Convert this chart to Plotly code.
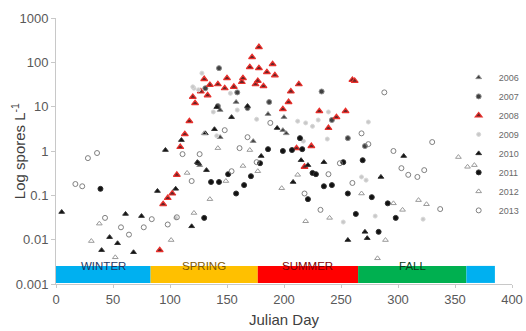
import plotly.graph_objects as go

# ---------------- data ----------------
years = ["2006", "2007", "2008", "2009", "2010", "2011", "2012", "2013"]

d2006 = [158, 144, 186, 200, 173, 202, 199, 144, 126]
v2006 = [12.7, 2.05, 6.8, 5.8, 1.67, 2.5, 2.95, 8.4, 0.48]

d2007 = [143, 131, 159, 168, 187, 233, 242, 256, 271, 142]
v2007 = [74, 26, 21, 9.3, 12.7, 22, 5.0, 1.95, 1.29, 10.3]

d2008 = [91, 94, 98, 102, 106, 109, 113, 117, 120, 122, 127, 130, 133, 135, 142, 148, 150, 156,
         163, 164, 170, 172, 178, 178, 175, 177, 182, 185, 190, 192, 199, 204, 206, 213, 231, 239,
         246, 254, 260, 262, 211, 224, 218]
v2008 = [0.0058, 0.063, 0.087, 0.11, 0.29, 1.23, 2.4, 4.7, 16.6, 12, 22, 42, 18, 31, 32, 26, 44, 28,
         36, 44, 78, 131, 221, 74, 32, 38, 29, 60, 91, 51, 8.8, 12.7, 22, 32, 7.9, 3.3,
         5.8, 7.9, 40, 38, 1.16, 1.29, 0.44]

d2009 = [121, 128, 120, 125, 153, 159, 138, 141, 176, 212, 219, 225, 230, 239, 274, 238, 217,
         268, 272, 252, 280, 322, 105]
v2009 = [26, 57, 28, 24, 20, 8.4, 7.6, 2.2, 5.2, 4.7, 4.3, 3.6, 5.0, 7.6, 4.5, 1.86, 1.67,
         0.26, 0.22, 0.025, 0.034, 0.029, 0.031]

d2010 = [5, 40, 47, 54, 61, 68, 75, 89, 96, 105, 110, 119, 125, 132, 124, 131, 139, 141, 154, 168,
         180, 194, 208, 215, 221, 235, 256, 271, 273, 285, 305]
v2010 = [0.042, 0.0058, 0.0114, 0.0083, 0.038, 0.0052, 0.034, 0.125, 1.05, 0.14, 1.76, 0.02, 0.53,
         0.37, 0.56, 2.5, 3.1, 9.8, 5.8, 10.3, 0.77, 3.3, 0.2, 0.62, 0.48, 0.56, 0.0098, 0.015,
         0.0108, 0.26, 0.77]

d2011 = [39, 130, 136, 143, 151, 158, 165, 171, 186, 199, 207, 214, 216, 221, 225, 228, 235, 242,
         252, 256, 263, 269, 277, 283, 291, 298, 179]
v2011 = [0.14, 0.031, 0.2, 0.2, 0.30, 0.11, 0.17, 0.27, 1.1, 1.0, 1.05, 1.95, 1.1, 0.082, 0.32,
         0.30, 0.16, 0.17, 0.56, 0.11, 0.038, 0.62, 0.091, 0.015, 0.066, 0.031, 0.53]

d2012 = [31, 38, 52, 101, 115, 121, 135, 130, 142, 149, 164, 170, 177, 198, 212, 219, 240, 268,
         282, 289, 296, 304, 318, 325, 353, 361, 367]
v2012 = [0.0093, 0.023, 0.004, 0.0098, 0.32, 0.04, 0.082, 2.5, 1.16, 0.21, 0.46, 1.05, 0.35, 0.145,
         0.29, 0.026, 0.031, 0.11, 0.0038, 0.0098, 0.066, 0.047, 0.078, 0.063, 0.73, 0.44, 0.48]

d2013 = [17, 23, 28, 36, 43, 57, 64, 77, 84, 98, 106, 111, 119, 126, 148, 154, 161, 168, 176, 188,
         218, 232, 239, 249, 260, 268, 274, 288, 296, 303, 309, 317, 323, 330, 337]
v2013 = [0.18, 0.16, 0.69, 0.9, 0.031, 0.019, 0.013, 0.019, 0.029, 0.022, 0.032, 0.85, 0.21, 0.85,
         2.95, 0.35, 1.16, 2.05, 0.56, 4.3, 0.11, 0.047, 0.30, 0.53, 0.19, 2.5, 1.43, 21, 1.0,
         0.41, 0.29, 0.26, 0.37, 1.59, 0.049]

seasons = ["WINTER", "SPRING", "SUMMER", "FALL", ""]
season_start = [0, 83, 177, 265, 360]
season_end = [83, 177, 265, 360, 385]
season_fill = ["#00b0f0", "#ffc000", "#ff0000", "#00b050", "#00b0f0"]
season_text = ["#1f3864", "#7f5a00", "#7f0000", "#0a3d1a", "#1f3864"]

x_ticks = [0, 50, 100, 150, 200, 250, 300, 350, 400]
y_ticks = [0.001, 0.01, 0.1, 1, 10, 100, 1000]
y_ticktext = ["0.001", "0.01", "0.1", "1", "10", "100", "1000"]

# ---------------- styles ----------------
series = [
    (d2006, v2006, dict(symbol="triangle-up", size=5, color="#404040", line=dict(color="#8c8c8c", width=1))),
    (d2007, v2007, dict(symbol="circle", size=5, color="#404040", line=dict(color="#8c8c8c", width=1))),
    (d2008, v2008, dict(symbol="triangle-up", size=6, color="#6b2424", line=dict(color="#e8302c", width=1.2))),
    (d2009, v2009, dict(symbol="circle", size=4, color="#c8c8c8", line=dict(color="#d8d8d8", width=1))),
    (d2010, v2010, dict(symbol="triangle-up", size=5, color="#111111", line=dict(color="#333333", width=1))),
    (d2011, v2011, dict(symbol="circle", size=5, color="#111111", line=dict(color="#333333", width=1))),
    (d2012, v2012, dict(symbol="triangle-up-open", size=5, color="#9a9a9a", line=dict(width=1))),
    (d2013, v2013, dict(symbol="circle-open", size=5, color="#808080", line=dict(width=1))),
]

fig = go.Figure()
for name, (xs, ys, mk) in zip(years, series):
    fig.add_trace(go.Scatter(x=xs, y=ys, mode="markers", name=name, marker=mk))

for lab, s, e, fc, tc in zip(seasons, season_start, season_end, season_fill, season_text):
    fig.add_shape(type="rect", xref="x", yref="paper", x0=s, x1=e, y0=0.004, y1=0.068,
                  fillcolor=fc, line=dict(width=0), layer="below")
    if lab:
        fig.add_annotation(x=(s + e) / 2, y=0.036, xref="x", yref="paper", text=lab,
                           showarrow=False, font=dict(size=11.5, color=tc, family="Liberation Sans, Arial"))

# y-axis title as a rotated annotation for precise placement
fig.add_annotation(x=-0.083, y=0.5, xref="paper", yref="paper", text="Log spores L<sup>-1</sup>",
                   textangle=-90, showarrow=False, xanchor="center", yanchor="middle",
                   font=dict(size=15, color="#404040", family="Liberation Sans, Arial"))

axis_col = "#c8c8c8"
fig.update_layout(
    width=526, height=331,
    margin=dict(l=56, r=14, t=18, b=47, autoexpand=False),
    paper_bgcolor="white", plot_bgcolor="white",
    font=dict(family="Liberation Sans, Arial", color="#595959"),
    showlegend=True,
    legend=dict(xref="container", x=0.872, xanchor="left", yref="container", y=0.81, yanchor="top",
                font=dict(size=9, color="#6a6a6a"), bgcolor="rgba(0,0,0,0)",
                itemwidth=30, tracegroupgap=0),
    xaxis=dict(range=[0, 400], tickvals=x_ticks, showgrid=False, zeroline=False, automargin=False,
               showline=True, linecolor=axis_col, ticks="outside", ticklen=3, tickcolor=axis_col,
               tickfont=dict(size=13, color="#595959"),
               title=dict(text="Julian Day", font=dict(size=15, color="#404040"), standoff=8)),
    yaxis=dict(type="log", range=[-3, 3], tickvals=y_ticks, ticktext=y_ticktext, showgrid=False,
               zeroline=False, showline=True, linecolor=axis_col, ticks="outside", ticklen=4,
               automargin=False,
               tickcolor=axis_col, tickfont=dict(size=13, color="#595959")),
)

fig.write_html("out.html")
